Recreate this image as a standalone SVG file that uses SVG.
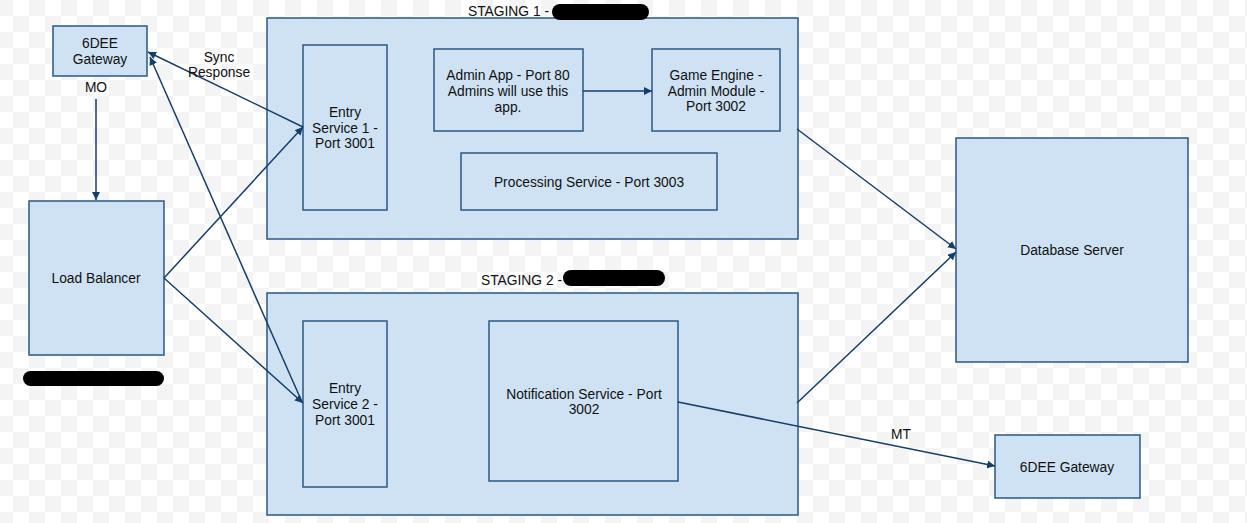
<svg xmlns="http://www.w3.org/2000/svg" width="1247" height="523" viewBox="0 0 1247 523">
<defs>
<pattern id="chk" x="-3" y="0" width="32" height="32" patternUnits="userSpaceOnUse">
<rect width="32" height="32" fill="#ffffff"/>
<rect width="16" height="16" fill="#f4f4f4"/>
<rect x="16" y="16" width="16" height="16" fill="#f4f4f4"/>
</pattern>
<marker id="arr" viewBox="0 0 10 10" refX="10" refY="5" markerWidth="8" markerHeight="8" markerUnits="userSpaceOnUse" orient="auto">
<path d="M0,0 L10,5 L0,10 z" fill="#153f6b"/>
</marker>
</defs>
<style>
.box{fill:#cfe2f3;stroke:#2a5783;stroke-width:1.5}
.t{font-family:"Liberation Sans",Arial,sans-serif;font-size:13.8px;fill:#111;text-anchor:middle}
.tl{font-family:"Liberation Sans",Arial,sans-serif;font-size:13.8px;fill:#111}
.c{fill:none;stroke:#153f6b;stroke-width:1.5;marker-end:url(#arr)}
.blob{fill:#000}
</style>
<rect width="1247" height="523" fill="url(#chk)"/>

<g id="staging1">
<rect class="box" x="267" y="18" width="531" height="221"/>
<text class="tl" x="468" y="16">STAGING 1 - </text>
<rect class="blob" x="552" y="4" width="97" height="16" rx="8"/>
</g>
<g id="staging2">
<rect class="box" x="267" y="293" width="531" height="222"/>
<text class="tl" x="481" y="285">STAGING 2 - </text>
<rect class="blob" x="563" y="270" width="102" height="16" rx="8"/>
</g>

<g id="gateway-top">
<rect class="box" x="53" y="26" width="94" height="50"/>
<text class="t" x="100" y="48">6DEE</text>
<text class="t" x="100" y="64">Gateway</text>
</g>
<g id="load-balancer">
<rect class="box" x="29" y="201" width="135" height="154"/>
<text class="t" x="96" y="283">Load Balancer</text>
<rect class="blob" x="23" y="371" width="141" height="15" rx="7.5"/>
</g>
<g id="entry1">
<rect class="box" x="303" y="45" width="84" height="165"/>
<text class="t" x="345" y="117">Entry</text>
<text class="t" x="345" y="133">Service 1 -</text>
<text class="t" x="345" y="148">Port 3001</text>
</g>
<g id="admin-app">
<rect class="box" x="434" y="49" width="149" height="82"/>
<text class="t" x="508" y="80">Admin App - Port 80</text>
<text class="t" x="508" y="96">Admins will use this</text>
<text class="t" x="508" y="112">app.</text>
</g>
<g id="game-engine">
<rect class="box" x="652" y="49" width="128" height="82"/>
<text class="t" x="716" y="80">Game Engine -</text>
<text class="t" x="716" y="96">Admin Module -</text>
<text class="t" x="716" y="111">Port 3002</text>
</g>
<g id="processing">
<rect class="box" x="461" y="153" width="256" height="57"/>
<text class="t" x="589" y="187">Processing Service - Port 3003</text>
</g>
<g id="entry2">
<rect class="box" x="303" y="321" width="84" height="166"/>
<text class="t" x="345" y="393">Entry</text>
<text class="t" x="345" y="409">Service 2 -</text>
<text class="t" x="345" y="425">Port 3001</text>
</g>
<g id="notification">
<rect class="box" x="489" y="321" width="189" height="160"/>
<text class="t" x="584" y="399">Notification Service - Port</text>
<text class="t" x="584" y="414">3002</text>
</g>
<g id="database">
<rect class="box" x="956" y="138" width="232" height="224"/>
<text class="t" x="1072" y="255">Database Server</text>
</g>
<g id="gateway-bottom">
<rect class="box" x="995" y="435" width="145" height="63"/>
<text class="t" x="1067" y="472">6DEE Gateway</text>
</g>

<g id="connectors">
<line class="c" x1="96" y1="99" x2="96" y2="200"/>
<line class="c" x1="164" y1="278" x2="303" y2="127"/>
<line class="c" x1="164" y1="278" x2="303" y2="403"/>
<line class="c" x1="303" y1="127" x2="148" y2="52"/>
<line class="c" x1="302" y1="402" x2="150" y2="57"/>
<line class="c" x1="583" y1="91" x2="652" y2="91"/>
<line class="c" x1="797" y1="129" x2="956" y2="249"/>
<line class="c" x1="797" y1="403" x2="956" y2="252"/>
<line class="c" x1="678" y1="402" x2="995" y2="466"/>
<text class="t" x="96" y="92">MO</text>
<text class="t" x="219" y="62">Sync</text>
<text class="t" x="219" y="77">Response</text>
<text class="t" x="901" y="439">MT</text>
</g>
</svg>
